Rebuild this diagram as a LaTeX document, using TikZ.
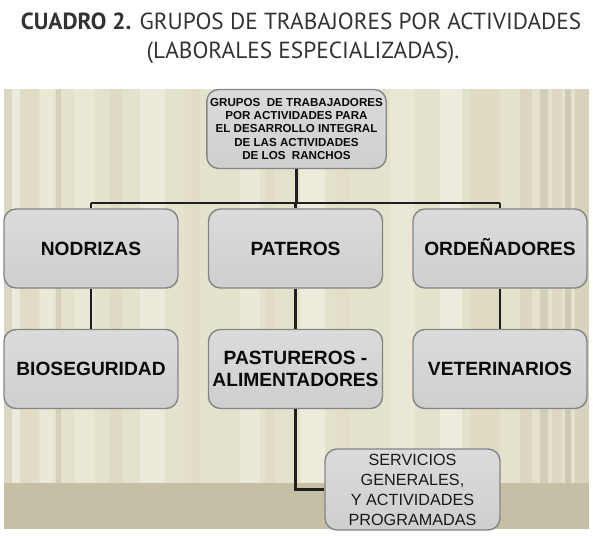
\documentclass[tikz,border=0pt]{standalone}
\usepackage{fontspec}
\setmainfont{Liberation Sans}
\newfontfamily\titlefont{PT Sans}
\begin{document}
\begin{tikzpicture}[x=1pt,y=-1pt,
  conn/.style={draw=black!88,line width=2.2pt},
  boxbase/.style={draw=black!48,line width=1.4pt,rounded corners=12pt,
    top color=black!14,bottom color=black!19,text=black!96,align=center},
  bigbox/.style={boxbase,minimum width=174pt,minimum height=79pt,
    font=\bfseries\fontsize{19.2}{21.5}\selectfont},
  topbox/.style={boxbase,minimum width=177pt,minimum height=79pt,
    font=\bfseries\fontsize{11.6}{13.3}\selectfont},
  servbox/.style={boxbase,minimum width=175pt,minimum height=81pt,
    text=black!90,font=\fontsize{16.2}{20}\selectfont}
]
\useasboundingbox (0,0) rectangle (593,535);
\fill[white] (0,0) rectangle (593,535);
% title
\node[font=\titlefont\fontsize{23.3}{28}\selectfont,text=black!80,anchor=base] (t1) at (301,30)
  {\textbf{CUADRO 2.} GRUPOS DE TRABAJORES POR ACTIVIDADES};
\node[font=\titlefont\fontsize{23.3}{28}\selectfont,text=black!80,anchor=base] (t2) at (303,58)
  {(LABORALES ESPECIALIZADAS).};
% background panel
\fill[fill={rgb,255:red,228;green,225;blue,204}] (4,89) rectangle (589,483);
\foreach \xa/\w/\c in {
  4/8/{rgb,255:red,218;green,214;blue,192},
  12/8/{rgb,255:red,236;green,234;blue,218},
  20/18/{rgb,255:red,224;green,220;blue,198},
  40/14/{rgb,255:red,234;green,232;blue,214},
  56/5/{rgb,255:red,214;green,210;blue,186},
  75/20/{rgb,255:red,234;green,231;blue,212},
  110/12/{rgb,255:red,222;green,218;blue,196},
  140/25/{rgb,255:red,236;green,234;blue,218},
  185/15/{rgb,255:red,225;green,221;blue,198},
  240/20/{rgb,255:red,234;green,232;blue,214},
  265/10/{rgb,255:red,224;green,220;blue,198},
  300/25/{rgb,255:red,237;green,235;blue,220},
  335/15/{rgb,255:red,226;green,222;blue,200},
  390/25/{rgb,255:red,234;green,232;blue,212},
  440/22/{rgb,255:red,238;green,236;blue,222},
  470/30/{rgb,255:red,224;green,220;blue,196},
  520/12/{rgb,255:red,218;green,214;blue,192},
  540/8/{rgb,255:red,210;green,206;blue,184},
  552/10/{rgb,255:red,220;green,216;blue,196},
  565/6/{rgb,255:red,206;green,202;blue,180},
  575/14/{rgb,255:red,214;green,210;blue,188}}
  \fill[fill=\c] (\xa,89) rectangle ++(\w,394);
\fill[fill={rgb,255:red,196;green,191;blue,165}] (4,483) rectangle (589,529);
% nodes
\node[topbox] (top) at (296.5,129) {GRUPOS\ \ DE TRABAJADORES\\POR ACTIVIDADES PARA\\EL DESARROLLO INTEGRAL\\DE LAS ACTIVIDADES\\DE LOS\ \ RANCHOS};
\coordinate (bus) at (0,203);
\node[bigbox] (nod) at (91,248.5) {NODRIZAS};
\node[bigbox] (pat) at (295.5,248.5) {PATEROS};
\node[bigbox] (ord) at (500,248.5) {\smash{ORDEÑADORES}\vphantom{ORDENADORES}};
\node[bigbox] (bio) at (91,369) {BIOSEGURIDAD};
\node[bigbox] (pas) at (295.5,369) {PASTUREROS -\\ALIMENTADORES};
\node[bigbox] (vet) at (500,369) {VETERINARIOS};
\node[servbox] (serv) at (412.5,489.5) {SERVICIOS\\GENERALES,\\Y ACTIVIDADES\\PROGRAMADAS};
% connectors
\draw[conn] (top.south) -- (top.south |- bus);
\draw[conn] (nod.north |- bus) -- (ord.north |- bus);
\draw[conn] (nod.north |- bus) -- (nod.north);
\draw[conn] (pat.north |- bus) -- (pat.north);
\draw[conn] (ord.north |- bus) -- (ord.north);
\draw[conn] (nod.south) -- (bio.north);
\draw[conn] (pat.south) -- (pas.north);
\draw[conn] (ord.south) -- (vet.north);
\draw[conn] (pas.south) |- (serv.west);
\end{tikzpicture}
\end{document}
